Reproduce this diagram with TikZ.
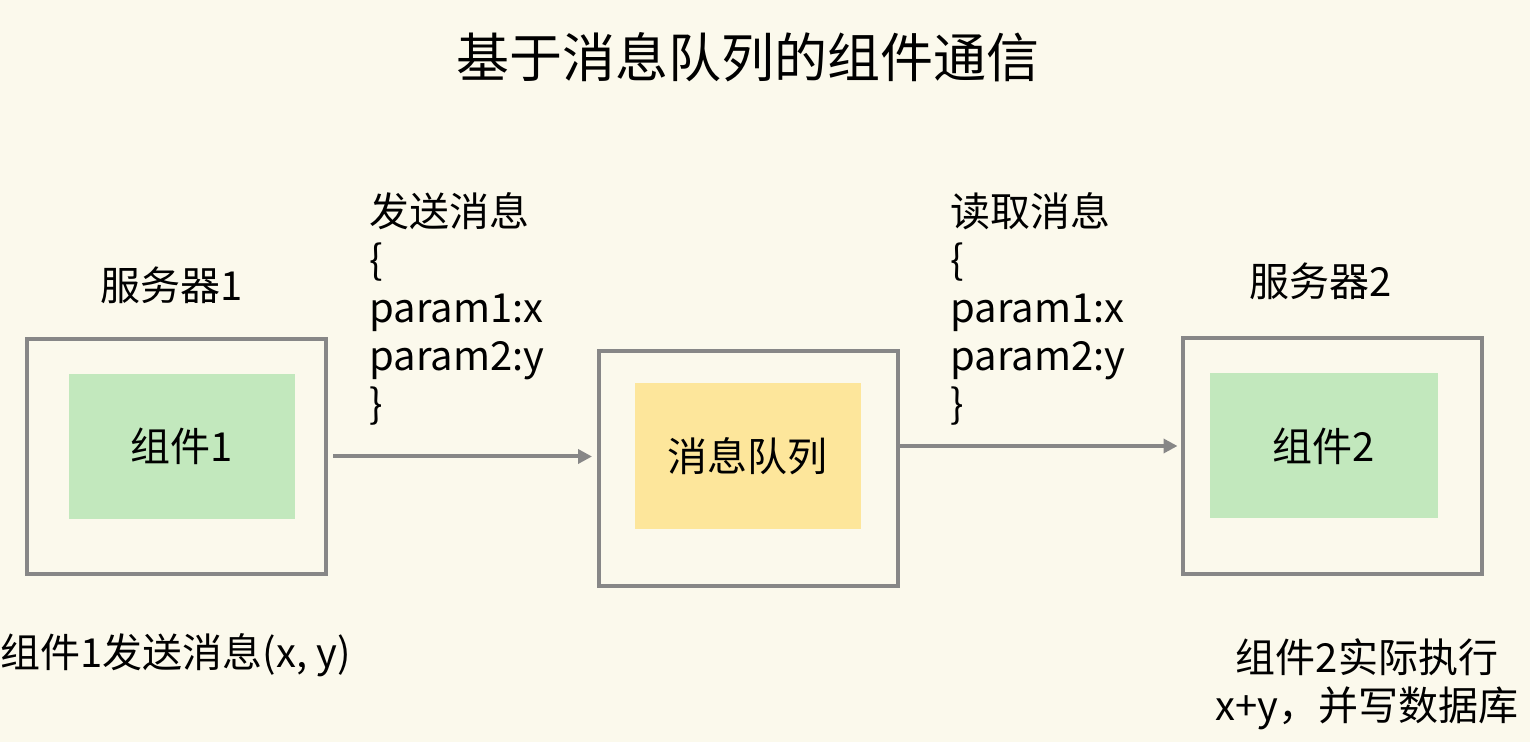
\documentclass[tikz,border=0pt]{standalone}
\usepackage{fontspec}
\setmainfont{Noto Sans CJK SC}
\usetikzlibrary{arrows.meta, positioning}
\definecolor{bgcolor}{HTML}{FBF9EC}
\definecolor{boxgray}{HTML}{878787}
\definecolor{compgreen}{HTML}{C2E8BD}
\definecolor{queueyellow}{HTML}{FDE69B}

\begin{document}
\begin{tikzpicture}[x=0.5pt, y=-0.5pt, font=\fontsize{20}{24}\selectfont]
\tikzstyle{server}=[rectangle,draw=boxgray,line width=2pt,minimum width=149.5pt,minimum height=117.5pt,inner sep=0pt]
\tikzstyle{component}=[rectangle,fill=compgreen,minimum width=113pt,minimum height=72.5pt,inner sep=0pt]
\tikzstyle{queue}=[component, fill=queueyellow]
\tikzstyle{msg}=[align=left, anchor=north west, inner sep=0pt]
\tikzstyle{annot}=[inner sep=0pt]
\tikzstyle{link}=[draw=boxgray,line width=2pt,-{Triangle[length=7pt,width=7pt]}]

% Background and picture size
\fill[bgcolor] (0,0) rectangle (1530,742);
\useasboundingbox (0,0) rectangle (1530,742);

% Title
\node[annot, font=\fontsize{26.5}{30}\selectfont] (title) at (748,57) {基于消息队列的组件通信};

% Draw the outer boxes
\node[server] (box1) at (176.5,456.5) {};
\node[server] (boxq) at (748.5,468.5) {};
\node[server] (box2) at (1332,456) {};

% Draw the inner boxes
\node[component] (comp1) at (181.5,446.5) {组件1};
\node[queue] (mq) at (747.5,456) {消息队列};
\node[component, minimum width=114pt] (comp2) at (1324,446) {组件2};

% Connect the boxes
\draw[link, shorten <=2.5pt, shorten >=2.5pt] (box1.east) -- (boxq.west |- box1.east);
\draw[link, shorten >=1.5pt] (comp2.west -| boxq.east) -- (box2.west |- comp2.west);

% Annotate the servers and messages
\node[annot] (name1) at (172,285) {服务器1};
\node[annot] (name2) at (1321,281) {服务器2};
\node[msg] (send) at (369,192) {发送消息\\\{\\param1:x\\param2:y\\\}};
\node[msg] (read) at (950,192) {读取消息\\\{\\param1:x\\param2:y\\\}};
\node[annot, anchor=west] (note1) at (0,655) {组件1发送消息(x, y)};
\node[annot, align=center] (note2) at (1367,684) {组件2实际执行\\x+y，并写数据库};

\end{tikzpicture}
\end{document}
